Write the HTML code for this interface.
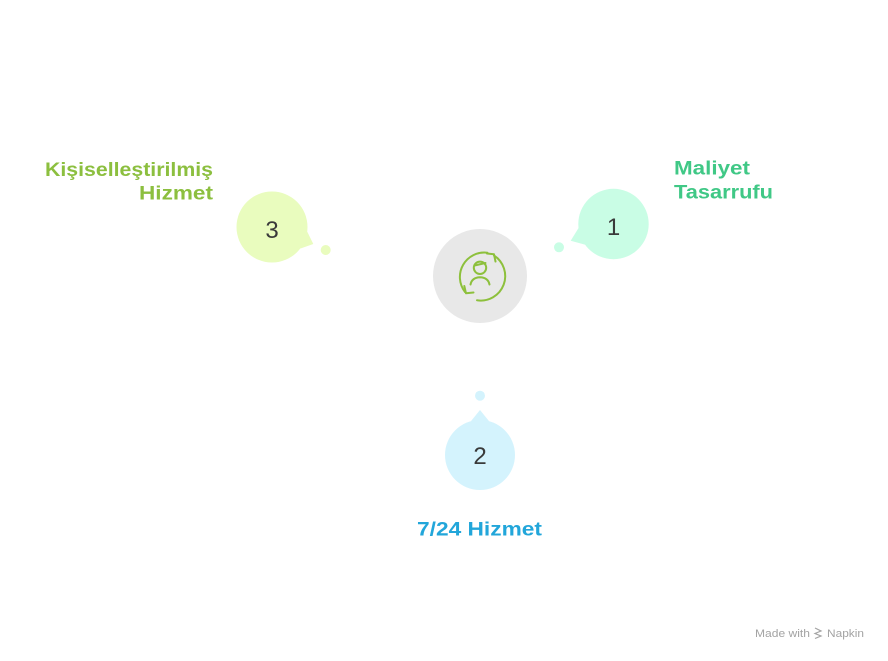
<!DOCTYPE html>
<html>
<head>
<meta charset="utf-8">
<style>
  html, body { margin:0; padding:0; background:#ffffff; }
  body { width:888px; height:661px; overflow:hidden; }
  svg { display:block; }
  .lbl { font-family:"Liberation Sans", sans-serif; font-weight:bold; font-size:19px; }
  .num { font-family:"Liberation Sans", sans-serif; font-size:24px; fill:#3a3a3a; }
</style>
</head>
<body>
<svg width="888" height="661" viewBox="0 0 888 661" xmlns="http://www.w3.org/2000/svg">
  <rect width="888" height="661" fill="#ffffff"/>

  <!-- Center circle -->
  <circle cx="480" cy="276" r="47" fill="#e8e8e8"/>
  <!-- Icon -->
  <g fill="none" stroke="#8dc03c" stroke-width="2" stroke-linecap="round" stroke-linejoin="round">
    <!-- left arc: from top going counterclockwise over left to lower-left -->
    <path d="M 487.4 252.7 A 24.5 24.5 0 0 0 465 292"/>
    <!-- arrowhead lower-left -->
    <path d="M 464.3 286 L 466 293.3 L 473.5 292.5"/>
    <!-- right arc: from bottom going counterclockwise up to top-right -->
    <path d="M 477 300.3 A 24.5 24.5 0 0 0 494 255.5"/>
    <!-- arrowhead top-right -->
    <path d="M 495.5 261.5 L 494 254.3 L 487 253.5"/>
    <!-- head -->
    <circle cx="480" cy="267.8" r="6.2"/>
    <path d="M 474.5 265.5 L 485.5 263"/>
    <!-- shoulders -->
    <path d="M 470.5 284.5 Q 472 277.5 480 277.3 Q 488 277.5 489.5 284.5"/>
  </g>

  <!-- Node 1 -->
  <circle cx="613.5" cy="224" r="35.2" fill="#c9fde5"/>
  <polygon points="570.7,240.7 578.7,227.8 585.3,244.7" fill="#c9fde5"/>
  <circle cx="559" cy="247.3" r="5" fill="#c9fde5"/>
  <text class="num" x="613.5" y="235" text-anchor="middle">1</text>

  <!-- Node 3 -->
  <circle cx="272" cy="227" r="35.5" fill="#e9fcbe"/>
  <polygon points="313.3,244 307.2,231.6 300.2,248.6" fill="#e9fcbe"/>
  <circle cx="325.7" cy="250" r="5" fill="#e9fcbe"/>
  <text class="num" x="272" y="238" text-anchor="middle">3</text>

  <!-- Node 2 -->
  <circle cx="480" cy="455" r="35" fill="#d4f3fd"/>
  <polygon points="480,410 470.9,421.2 489.1,421.2" fill="#d4f3fd"/>
  <circle cx="480" cy="395.7" r="5" fill="#d4f3fd"/>
  <text class="num" x="480" y="464" text-anchor="middle">2</text>

  <!-- Labels -->
  <text class="lbl" x="674" y="174.5" fill="#40c886" textLength="76" lengthAdjust="spacingAndGlyphs">Maliyet</text>
  <text class="lbl" x="674" y="198.5" fill="#40c886" textLength="99" lengthAdjust="spacingAndGlyphs">Tasarrufu</text>

  <text class="lbl" x="45" y="176" fill="#8cbf3f" textLength="168" lengthAdjust="spacingAndGlyphs">Kişiselleştirilmiş</text>
  <text class="lbl" x="139" y="199.5" fill="#8cbf3f" textLength="74" lengthAdjust="spacingAndGlyphs">Hizmet</text>

  <text class="lbl" x="417" y="535.5" fill="#22a6da" textLength="125" lengthAdjust="spacingAndGlyphs">7/24 Hizmet</text>

  <!-- Watermark -->
  <text x="755" y="637" font-family="Liberation Sans, sans-serif" font-size="11" fill="#a3a3a3" textLength="55" lengthAdjust="spacingAndGlyphs">Made with</text>
  <g stroke="#a3a3a3" stroke-width="1.2" fill="none">
    <path d="M 815 628 L 821 631 L 815 633.5 L 821 636 L 815 638.5"/>
  </g>
  <text x="827" y="637" font-family="Liberation Sans, sans-serif" font-size="11" fill="#a3a3a3" textLength="37" lengthAdjust="spacingAndGlyphs">Napkin</text>
</svg>
</body>
</html>
